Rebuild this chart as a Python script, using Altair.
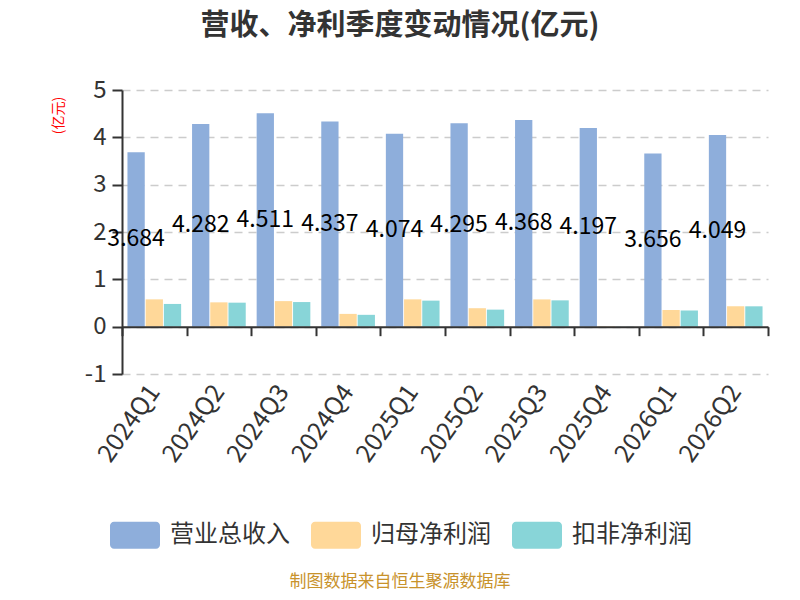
import altair as alt
import pandas as pd

quarters = ["2024Q1", "2024Q2", "2024Q3", "2024Q4", "2025Q1", "2025Q2", "2025Q3", "2025Q4", "2026Q1", "2026Q2"]
series_names = ["营业总收入", "归母净利润", "扣非净利润"]
revenue = [3.684, 4.282, 4.511, 4.337, 4.074, 4.295, 4.368, 4.197, 3.656, 4.049]
net_profit = [0.577, 0.514, 0.54, 0.27, 0.577, 0.39, 0.576, 0.008, 0.354, 0.43]
deducted_profit = [0.48, 0.507, 0.52, 0.25, 0.55, 0.36, 0.556, 0.004, 0.34, 0.43]
colors = ["#8EAEDB", "#FFD899", "#88D5D8"]
y_ticks = [-1, 0, 1, 2, 3, 4, 5]
title_text = "营收、净利季度变动情况(亿元)"
source_text = "制图数据来自恒生聚源数据库"

rows = []
for s, vals in zip(series_names, [revenue, net_profit, deducted_profit]):
    for q, v in zip(quarters, vals):
        rows.append({"q": q, "series": s, "value": v})
df = pd.DataFrame(rows)
rev_df = pd.DataFrame({"q": quarters, "series": series_names[0], "value": revenue})
rev_df["label"] = [f"{v:.3f}" for v in revenue]

W, H = 646, 284
FONT = "Noto Sans CJK SC"

x_scale = alt.Scale(domain=quarters, paddingInner=0, paddingOuter=0)
xo_scale = alt.Scale(domain=series_names, paddingInner=0.05, paddingOuter=0.3)
y_scale = alt.Scale(domain=[-1, 5], nice=False, zero=False)

legend_path = ("M-0.84,-0.54H0.84A0.16,0.16,0,0,1,1,-0.38V0.38A0.16,0.16,0,0,1,0.84,0.54"
               "H-0.84A0.16,0.16,0,0,1,-1,0.38V-0.38A0.16,0.16,0,0,1,-0.84,-0.54Z")

bars = alt.Chart(df).mark_bar().encode(
    x=alt.X("q:N", scale=x_scale, sort=quarters,
            axis=alt.Axis(orient="bottom", title=None, domain=False, ticks=False, grid=False,
                          labelAngle=-55, labelFontSize=25, labelColor="#333333", labelFont=FONT,
                          labelPadding=13)),
    xOffset=alt.XOffset("series:N", scale=xo_scale, sort=series_names),
    y=alt.Y("value:Q", scale=y_scale,
            axis=alt.Axis(title="(亿元)", values=y_ticks, labelExpr="datum.value + ''",
                          labelFontSize=24, labelColor="#333333", labelFont=FONT, labelPadding=6,
                          domainColor="#333333", domainWidth=2, tickColor="#333333",
                          tickWidth=2, tickSize=10, grid=True, gridColor="#cccccc",
                          gridDash=[8, 6], gridWidth=1.5, titleColor="red", titleFontSize=14,
                          titleFontWeight="normal", titleFont=FONT, titleX=-64, titleY=25,
                          titleAlign="center", titleBaseline="middle")),
    color=alt.Color("series:N", scale=alt.Scale(domain=series_names, range=colors),
                    legend=alt.Legend(title=None, orient="none", direction="horizontal",
                                      legendX=-12, legendY=420, symbolType=legend_path,
                                      symbolSize=2500, symbolStrokeWidth=0, symbolOpacity=1,
                                      labelFontSize=24, labelColor="#333333", labelFont=FONT,
                                      labelOffset=10, columnPadding=21, padding=0)),
)

labels = alt.Chart(rev_df).transform_calculate(mid="datum.value / 2").mark_text(
    fontSize=23, color="#000000", font=FONT, baseline="middle", align="center"
).encode(
    x=alt.X("q:N", scale=x_scale, sort=quarters,
            axis=alt.Axis(orient="bottom", offset=-H / 6, labels=False, title=None, grid=False,
                          domain=True, domainColor="#333333", domainWidth=2, ticks=True,
                          tickBand="extent", tickColor="#333333", tickWidth=2, tickSize=9,
                          zindex=1)),
    xOffset=alt.XOffset("series:N", scale=xo_scale, sort=series_names),
    y=alt.Y("mid:Q", scale=y_scale),
    text="label:N",
)

title = alt.Chart(pd.DataFrame({"t": [title_text]})).mark_text(
    fontSize=29, fontWeight="bold", color="#333333", font=FONT, align="center", baseline="middle"
).encode(x=alt.value(278), y=alt.value(-64), text="t:N")

footer = alt.Chart(pd.DataFrame({"t": [source_text]})).mark_text(
    fontSize=17, color="#C8922B", font=FONT, align="center", baseline="middle"
).encode(x=alt.value(278), y=alt.value(492), text="t:N")

chart = alt.layer(bars, labels, title, footer).resolve_axis(x="independent").properties(
    width=W, height=H,
    autosize=alt.AutoSizeParams(type="none"),
    padding={"left": 114, "top": 82, "right": 24, "bottom": 218},
    background="white",
).configure_view(stroke=None)

chart.save("out.html", embed_options={"renderer": "svg", "actions": False})
